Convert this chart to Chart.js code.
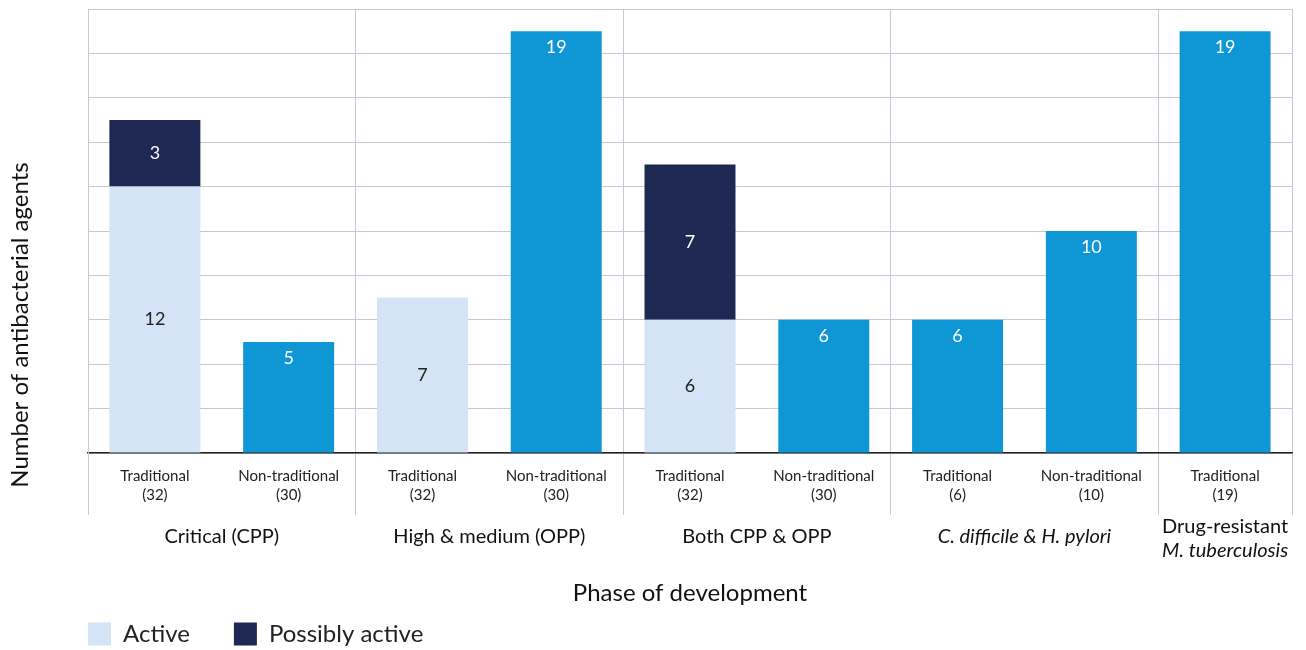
<!DOCTYPE html>
<html>
<head>
<meta charset="utf-8">
<script src="https://cdn.jsdelivr.net/npm/chart.js@4.4.0/dist/chart.umd.min.js"></script>
<style>
  html, body { margin: 0; padding: 0; background: #fff; }
  #wrap { width: 1306px; height: 650px; }
</style>
</head>
<body>
<div id="wrap"><canvas id="pipelineChart"></canvas></div>
<script>
// categories (one per bar) and the groups they belong to
const categories = [
  ["Traditional", "(32)"], ["Non-traditional", "(30)"],
  ["Traditional", "(32)"], ["Non-traditional", "(30)"],
  ["Traditional", "(32)"], ["Non-traditional", "(30)"],
  ["Traditional", "(6)"], ["Non-traditional", "(10)"],
  ["Traditional", "(19)"]
];
const groupNames = ["Critical (CPP)", "High & medium (OPP)", "Both CPP & OPP", "C. difficile & H. pylori", "Drug-resistant|M. tuberculosis"];
const groupSizes = [2, 2, 2, 2, 1];

// series values
const activeValues = [12, null, 7, null, 6, null, null, null, null];
const possiblyActiveValues = [3, null, null, null, 7, null, null, null, null];
const otherValues = [null, 5, null, 19, null, 6, 6, 10, 19];

const FONT = "Lato, 'Noto Sans', sans-serif";
const GRID = "#c9c6d8";

document.addEventListener("DOMContentLoaded", function () {
  const ctx = document.getElementById("pipelineChart").getContext("2d");

  // numbers inside the bars
  const barLabels = {
    id: "barLabels",
    afterDatasetsDraw(chart) {
      const c = chart.ctx;
      c.save();
      c.font = "18px " + FONT;
      c.textAlign = "center";
      c.textBaseline = "middle";
      chart.data.datasets.forEach((ds, di) => {
        const meta = chart.getDatasetMeta(di);
        meta.data.forEach((bar, i) => {
          const v = ds.data[i];
          if (!v) return;
          let y;
          if (di === 2) {
            y = bar.y + 16;
          } else {
            y = (bar.y + bar.base) / 2;
          }
          c.fillStyle = di === 0 ? "#222" : "#fff";
          c.fillText(String(v), bar.x, y);
        });
      });
      c.restore();
    }
  };

  // group names under the tick labels + y axis title
  const groupLabels = {
    id: "groupLabels",
    afterDraw(chart) {
      const c = chart.ctx;
      const x = chart.scales.x;
      c.save();
      c.fillStyle = "#111";
      c.textAlign = "center";
      c.textBaseline = "middle";
      let start = 0;
      groupNames.forEach((name, g) => {
        const end = start + groupSizes[g] - 1;
        const cx = (x.getPixelForValue(start) + x.getPixelForValue(end)) / 2;
        if (name.indexOf("|") >= 0) {
          const parts = name.split("|");
          c.font = "20px " + FONT;
          c.fillText(parts[0], cx, 527);
          c.font = "italic 20px " + FONT;
          c.fillText(parts[1], cx, 551);
        } else {
          c.font = (g === 3 ? "italic " : "") + "20px " + FONT;
          c.fillText(name, cx, 537);
        }
        start = end + 1;
      });

      c.translate(20, 325);
      c.rotate(-Math.PI / 2);
      c.font = "24px " + FONT;
      c.fillText("Number of antibacterial agents", 0, 0);
      c.restore();
    }
  };

  new Chart(ctx, {
    type: "bar",
    data: {
      labels: categories,
      datasets: [
        {
          label: "Active",
          data: activeValues,
          backgroundColor: "#d4e3f5",
          borderWidth: 0
        },
        {
          label: "Possibly active",
          data: possiblyActiveValues,
          backgroundColor: "#1f2753",
          borderWidth: 0
        },
        {
          label: "Other",
          data: otherValues,
          backgroundColor: "#0e97d4",
          borderWidth: 0
        }
      ]
    },
    options: {
      responsive: true,
      maintainAspectRatio: false,
      animation: false,
      categoryPercentage: 1,
      barPercentage: 0.68,
      layout: {
        padding: { left: 44, right: 14, top: 9, bottom: -6 }
      },
      plugins: {
        tooltip: { enabled: false },
        legend: {
          position: "bottom",
          align: "start",
          labels: {
            boxWidth: 23,
            boxHeight: 23,
            padding: 44,
            color: "#222",
            font: { size: 24, family: FONT },
            filter: function (item) {
              return item.datasetIndex < 2;
            }
          }
        }
      },
      scales: {
        x: {
          stacked: true,
          afterFit: function (scale) {
            scale.height = 125;
          },
          grid: {
            offset: true,
            tickLength: 62,
            color: function (c) {
              if (c.index === undefined) return GRID;
              return c.index % 2 === 0 ? GRID : "rgba(0,0,0,0)";
            }
          },
          border: { color: "#222", width: 1.5 },
          ticks: {
            color: "#222",
            padding: -49,
            maxRotation: 0,
            autoSkip: false,
            font: { size: 15, family: FONT, lineHeight: 1.3 }
          },
          title: {
            display: true,
            text: "Phase of development",
            color: "#111",
            font: { size: 24, family: FONT },
            padding: { top: 0, bottom: -30 }
          }
        },
        y: {
          stacked: true,
          min: 0,
          max: 20,
          afterFit: function (scale) {
            scale.width = 44;
          },
          ticks: { display: false, stepSize: 2 },
          grid: { color: GRID, drawTicks: false },
          border: { color: GRID }
        }
      }
    },
    plugins: [barLabels, groupLabels]
  });
});
</script>
</body>
</html>
